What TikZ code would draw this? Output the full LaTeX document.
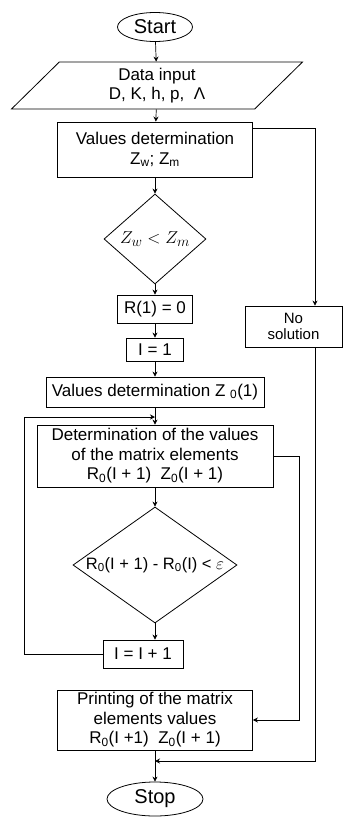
\documentclass[tikz,border=0pt]{standalone}
\usepackage{fontspec}
\setmainfont{Liberation Sans}
\usetikzlibrary{shapes.geometric,arrows.meta}

\tikzset{
    box/.style={rectangle, draw, line width=0.8pt, align=center, inner sep=1pt, font=\fontsize{17}{19.5}\selectfont},
    term/.style={ellipse, draw, line width=0.8pt, inner sep=0pt, font=\fontsize{20}{24}\selectfont},
    cond/.style={diamond, draw, line width=0.8pt, inner sep=0pt, font=\fontsize{16.5}{19}\selectfont},
    arr/.style={-{Stealth[length=5pt,width=5pt]}, line width=0.7pt}
}

\begin{document}
\begin{tikzpicture}[x=1pt,y=-1pt]
    \useasboundingbox (0,0) rectangle (343,817);

    % Start und Eingabe
    \node[term, minimum width=75pt, minimum height=29pt] (start) at (155,27) {Start};
    \node[box, trapezium, trapezium left angle=38, trapezium right angle=142, trapezium stretches body, minimum width=291pt, minimum height=47pt] (data) at (157,85.5) {Data input\\D, K, h, p, \ Λ};
    \node[box, minimum width=195pt, minimum height=55pt] (vals) at (155,149.5) {Values determination\\Z\textsubscript{w}; Z\textsubscript{m}};
    \node[cond, aspect=1.13, minimum width=102pt, minimum height=90pt, font=\fontsize{19}{22}\selectfont] (d1) at (155,239) {$Z_w < Z_m$};

    % Hauptzweig
    \node[box, minimum width=75pt, minimum height=28pt] (r1) at (155,309) {R(1) = 0};
    \node[box, minimum width=57pt, minimum height=23pt] (i1) at (155,349.5) {I = 1};
    \node[box, minimum width=218pt, minimum height=30pt] (z0) at (155,392) {Values determination Z \textsubscript{0}(1)};
    \node[box, minimum width=236pt, minimum height=62pt] (det) at (155,456) {Determination of the values\\of the matrix elements\\R\textsubscript{0}(I + 1)\ \ Z\textsubscript{0}(I + 1)};
    \node[cond, aspect=1.41, minimum width=164pt, minimum height=116pt] (d2) at (155,565) {R\textsubscript{0}(I + 1) - R\textsubscript{0}(I) < $\varepsilon$};
    \node[box, minimum width=80pt, minimum height=28pt] (inc) at (143,654) {I = I + 1};
    \node[box, minimum width=195pt, minimum height=60pt] (print) at (155,720) {Printing of the matrix\\elements values\\R\textsubscript{0}(I +1)\ \ Z\textsubscript{0}(I + 1)};
    \node[term, minimum width=96pt, minimum height=34pt] (stop) at (155,799) {Stop};

    % Kein Ergebnis
    \node[box, minimum width=97pt, minimum height=41pt, font=\fontsize{15}{16}\selectfont] (nosol) at (293.5,326.5) {No\\solution};

    % Hilfspunkte
    \coordinate (back) at (155,417);
    \coordinate (join) at (155,761);

    % Pfeile
    \draw[arr] (start) -- (data);
    \draw[arr] (data) -- (vals);
    \draw[arr] (vals) -- (d1);
    \draw[arr] (d1) -- (r1);
    \draw[arr] (r1) -- (i1);
    \draw[arr] (i1) -- (z0);
    \draw[arr] (z0) -- (det);
    \draw[arr] (det) -- (d2);
    \draw[arr] (d2.south) -- (d2.south |- inc.north);
    \draw[arr] (print) -- (stop);

    % Schleife und Seitenwege
    \draw[arr] (inc.west) -- ++(-78,0) |- (back);
    \draw[arr] (det.east) -- ++(26,0) |- (print.east);
    \draw[arr] ([yshift=21.5pt]vals.east) -| ([xshift=21.5pt]nosol.north);
    \draw[arr] ([xshift=21.5pt]nosol.south) |- (join);
\end{tikzpicture}
\end{document}
